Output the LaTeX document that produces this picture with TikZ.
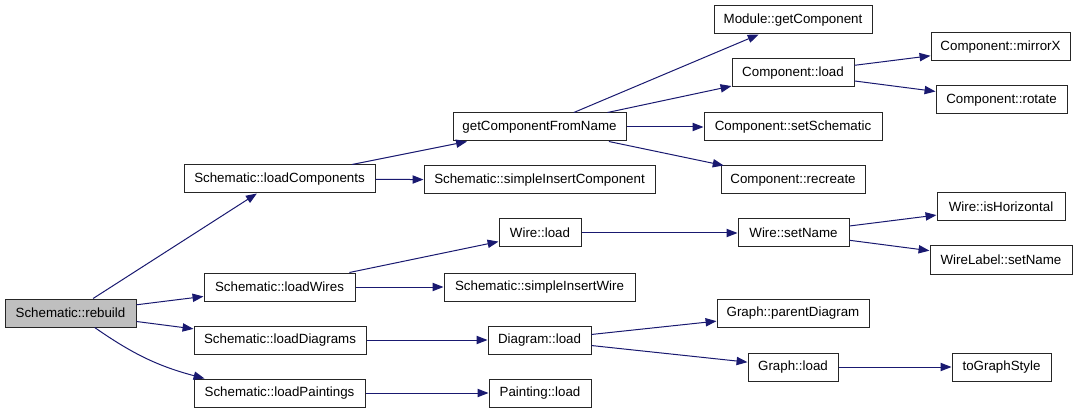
\documentclass[tikz,border=0pt]{standalone}
\usepackage{fontspec}
\setmainfont{Liberation Sans}
\usetikzlibrary{arrows.meta}
\definecolor{edgecol}{HTML}{191970}
\definecolor{rootfill}{HTML}{BFBFBF}
\begin{document}
\begin{tikzpicture}[x=0.75pt,y=-0.75pt,
  box/.style={draw=black!85, line width=0.75pt, fill=white, inner sep=0pt,
    minimum height=21pt, font=\fontsize{10}{12}\selectfont, text=black},
  root/.style={box, fill=rootfill},
  call/.style={draw=edgecol, line width=0.75pt,
    -{Triangle[length=8.2pt,width=6.2pt,fill=edgecol]}}]
\useasboundingbox (0,0) rectangle (1077,413);
% column 0
\node[root, minimum width=98.25pt] (rebuild) at (70.5,313) {Schematic::rebuild};
% column 1
\node[box, minimum width=143.25pt] (lcomp) at (279.5,179) {Schematic::loadComponents};
\node[box, minimum width=113.25pt] (lwires) at (279.5,287) {Schematic::loadWires};
\node[box, minimum width=129pt] (ldiag) at (280,340) {Schematic::loadDiagrams};
\node[box, minimum width=128.25pt] (lpaint) at (279.5,393) {Schematic::loadPaintings};
% column 2
\node[box, minimum width=129.75pt] (gcfn) at (539.5,127) {getComponentFromName};
\node[box, minimum width=173.25pt] (sic) at (539.5,180) {Schematic::simpleInsertComponent};
\node[box, minimum width=61.5pt] (wload) at (540,233) {Wire::load};
\node[box, minimum width=143.25pt] (siw) at (539.5,287) {Schematic::simpleInsertWire};
\node[box, minimum width=77.25pt] (dload) at (539.5,340) {Diagram::load};
\node[box, minimum width=76.5pt] (pload) at (540,393) {Painting::load};
% column 3
\node[box, minimum width=118.5pt] (mgc) at (793,20) {Module::getComponent};
\node[box, minimum width=91.5pt] (cload) at (793,73) {Component::load};
\node[box, minimum width=133.5pt] (csch) at (793,127) {Component::setSchematic};
\node[box, minimum width=108pt] (crec) at (793,180) {Component::recreate};
\node[box, minimum width=83.25pt] (wsn) at (793.5,233) {Wire::setName};
\node[box, minimum width=114pt] (gpd) at (793,313) {Graph::parentDiagram};
\node[box, minimum width=67.5pt] (gload) at (793,367) {Graph::load};
% column 4
\node[box, minimum width=104.25pt] (cmx) at (1000.5,47) {Component::mirrorX};
\node[box, minimum width=98.25pt] (crot) at (1001.5,100) {Component::rotate};
\node[box, minimum width=96pt] (wih) at (1001,207) {Wire::isHorizontal};
\node[box, minimum width=106.5pt] (wlsn) at (1001,260) {WireLabel::setName};
\node[box, minimum width=74.25pt] (tgs) at (1001.5,367) {toGraphStyle};
% edges
\draw[call] (rebuild) -- (lcomp);
\draw[call] (rebuild) -- (lwires);
\draw[call] (rebuild) -- (ldiag);
\draw[call] (rebuild) to[bend right=10] (lpaint);
\draw[call] (lcomp) -- (gcfn);
\draw[call] (lcomp) -- (sic);
\draw[call] (lwires) -- (wload);
\draw[call] (lwires) -- (siw);
\draw[call] (ldiag) -- (dload);
\draw[call] (lpaint) -- (pload);
\draw[call] (gcfn) -- (mgc);
\draw[call] (gcfn) -- (cload);
\draw[call] (gcfn) -- (csch);
\draw[call] (gcfn) -- (crec);
\draw[call] (cload) -- (cmx);
\draw[call] (cload) -- (crot);
\draw[call] (wload) -- (wsn);
\draw[call] (wsn) -- (wih);
\draw[call] (wsn) -- (wlsn);
\draw[call] (dload) -- (gpd);
\draw[call] (dload) -- (gload);
\draw[call] (gload) -- (tgs);
\end{tikzpicture}
\end{document}
